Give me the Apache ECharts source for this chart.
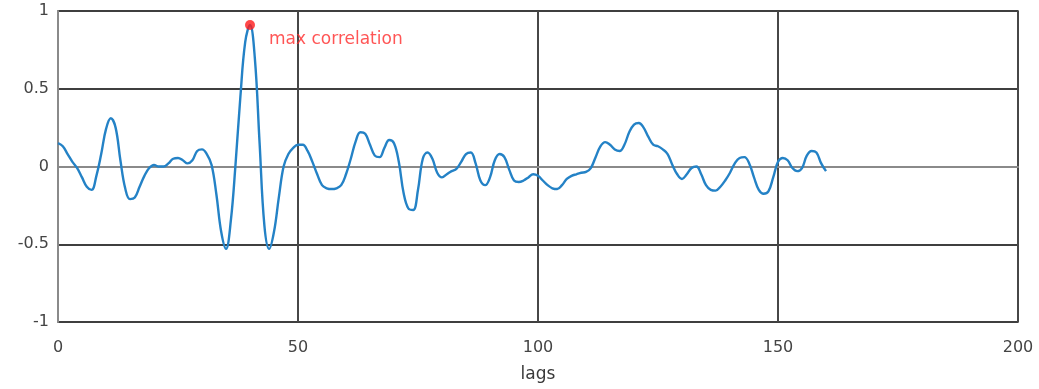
<!DOCTYPE html>
<html>
<head>
<meta charset="utf-8">
<title>Cross-correlation</title>
<script src="https://cdn.jsdelivr.net/npm/echarts@6/dist/echarts.min.js"></script>
<style>
  html, body { margin: 0; padding: 0; background: #fff; }
  #chart { width: 1039px; height: 389px; }
</style>
</head>
<body>
<div id="chart"></div>
<script>
// Correlation coefficient for each lag 0..160
const corrValues = [
  0.15, 0.13, 0.08, 0.03, -0.01, -0.07, -0.13, -0.15, -0.06, 0.08,
  0.24, 0.31, 0.25, 0.04, -0.14, -0.21, -0.20, -0.13, -0.06, -0.01,
  0.01, 0.00, 0.00, 0.02, 0.05, 0.055, 0.04, 0.02, 0.04, 0.10,
  0.11, 0.08, 0.01, -0.18, -0.42, -0.53, -0.35, 0.02, 0.45, 0.80,
  0.91, 0.70, 0.15, -0.38, -0.53, -0.42, -0.20, 0.00, 0.08, 0.12,
  0.14, 0.14, 0.10, 0.03, -0.05, -0.12, -0.14, -0.145, -0.14, -0.12,
  -0.05, 0.05, 0.16, 0.22, 0.21, 0.14, 0.07, 0.06, 0.12, 0.17,
  0.15, 0.03, -0.17, -0.27, -0.28, -0.15, 0.05, 0.09, 0.05, -0.04,
  -0.07, -0.05, -0.03, -0.015, 0.03, 0.08, 0.09, 0.02, -0.09, -0.12,
  -0.07, 0.04, 0.08, 0.06, -0.02, -0.09, -0.10, -0.09, -0.07, -0.05,
  -0.06, -0.09, -0.12, -0.14, -0.145, -0.12, -0.08, -0.06, -0.05, -0.04,
  -0.035, -0.01, 0.06, 0.13, 0.157, 0.14, 0.11, 0.10, 0.14, 0.22,
  0.27, 0.28, 0.25, 0.19, 0.14, 0.13, 0.11, 0.08, 0.01, -0.05,
  -0.08, -0.05, -0.01, 0.00, -0.05, -0.12, -0.15, -0.155, -0.13, -0.09,
  -0.04, 0.02, 0.055, 0.06, 0.02, -0.07, -0.15, -0.175, -0.16, -0.07,
  0.03, 0.055, 0.04, -0.01, -0.03, -0.01, 0.07, 0.10, 0.09, 0.02,
  -0.03
];
const lags = corrValues.map((_, i) => i);

// Location of the strongest correlation
const maxLag = [40];
const maxCorr = [0.91];
const maxLabel = 'max correlation';

const xTicks = { min: 0, max: 200, step: 50 };
const yTicks = { min: -1, max: 1, step: 0.5 };

const FONT = 'DejaVu Sans';
const chart = echarts.init(document.getElementById('chart'), null, { renderer: 'canvas' });

chart.setOption({
  animation: false,
  backgroundColor: '#ffffff',
  grid: {
    left: 58, right: 21, top: 11, bottom: 67,
    show: true, borderColor: '#8a8a8a', borderWidth: 2, backgroundColor: 'transparent'
  },
  xAxis: {
    type: 'value',
    min: xTicks.min, max: xTicks.max, interval: xTicks.step,
    name: 'lags', nameLocation: 'middle', nameGap: 44,
    nameTextStyle: { fontFamily: FONT, fontSize: 17, color: '#3a3a3a' },
    axisLine: { show: true, lineStyle: { color: '#8a8a8a', width: 2 } },
    axisTick: { show: false },
    axisLabel: { fontFamily: FONT, fontSize: 16, color: '#444', margin: 18 },
    splitLine: { show: true, lineStyle: { color: '#474747', width: 2 } }
  },
  yAxis: {
    type: 'value',
    min: yTicks.min, max: yTicks.max, interval: yTicks.step,
    axisLine: { show: true, lineStyle: { color: '#8a8a8a', width: 2 } },
    axisTick: { show: false },
    axisLabel: { fontFamily: FONT, fontSize: 16, color: '#444', margin: 9 },
    splitLine: { show: true, lineStyle: { color: '#3f3f3f', width: 1.8 } }
  },
  series: [
    {
      type: 'line',
      data: lags.map((l, i) => [l, corrValues[i]]),
      smooth: 0.4,
      showSymbol: false,
      lineStyle: { color: '#2482c6', width: 2.4 },
      z: 3
    },
    {
      type: 'scatter',
      data: maxLag.map((l, i) => [l, maxCorr[i]]),
      symbolSize: 10,
      itemStyle: { color: '#ff1a1a' },
      label: {
        show: true, position: 'right', distance: 5, offset: [9, 15],
        formatter: maxLabel,
        fontFamily: FONT, fontSize: 17, color: '#ff2a2a'
      },
      z: 4
    }
  ]
});
</script>
</body>
</html>
